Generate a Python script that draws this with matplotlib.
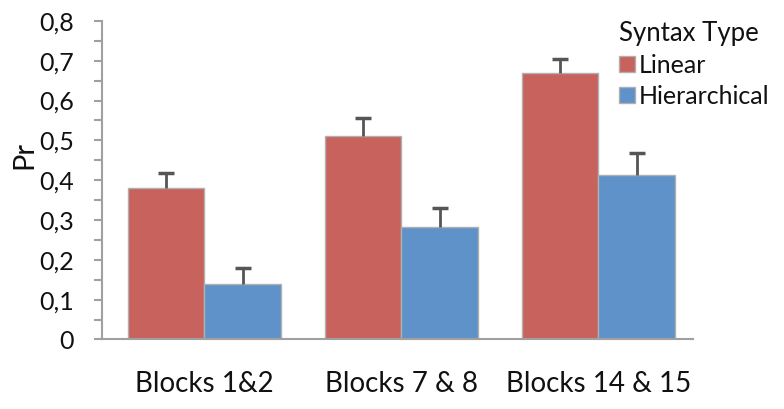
import matplotlib
matplotlib.use("Agg")
import matplotlib.pyplot as plt
import numpy as np
from matplotlib.ticker import MultipleLocator

categories = ["Blocks 1&2", "Blocks 7 & 8", "Blocks 14 & 15"]
linear = [0.38, 0.51, 0.67]
linear_err = [0.038, 0.045, 0.035]
hier = [0.14, 0.283, 0.413]
hier_err = [0.04, 0.047, 0.055]
series_names = ["Linear", "Hierarchical"]
yticks = [0, 0.1, 0.2, 0.3, 0.4, 0.5, 0.6, 0.7, 0.8]
yticklabels = ["0", "0,1", "0,2", "0,3", "0,4", "0,5", "0,6", "0,7", "0,8"]

plt.rcParams['font.family'] = ['Lato', 'DejaVu Sans']

red = "#C8625C"
blue = "#5E92C8"
gray = "#A0A0A0"
errc = "#555555"
txt = "#111111"

fig = plt.figure(figsize=(7.84, 4.09), dpi=100)
ax = fig.add_axes([0.130, 0.170, 0.754, 0.779])

x = np.arange(len(categories))
w = 0.39
for off, vals, errs, col, name in [(-w/2, linear, linear_err, red, series_names[0]),
                                   (w/2, hier, hier_err, blue, series_names[1])]:
    xs = x + off
    ax.bar(xs, vals, w, color=col, edgecolor="#B0B0B0", linewidth=1, label=name, zorder=2)
    tops = np.array(vals) + np.array(errs)
    ax.vlines(xs, vals, tops, color=errc, linewidth=2, zorder=3)
    ax.plot(xs, tops, linestyle="none", marker="_", markersize=11, markeredgewidth=2.5,
            color=errc, zorder=3)

ax.set_xlim(-0.52, 2.48)
ax.set_ylim(0, 0.8)
ax.set_xticks(x)
ax.set_xticklabels(categories, fontsize=20, color=txt)
ax.tick_params(axis='x', length=0, pad=23)
ax.set_yticks(yticks)
ax.set_yticklabels(yticklabels, fontsize=18, color=txt)
ax.yaxis.set_minor_locator(MultipleLocator(0.05))
ax.tick_params(axis='y', which='both', length=6, width=1.5, color=gray, pad=14)

for s in ["top", "right"]:
    ax.spines[s].set_visible(False)
for s in ["left", "bottom"]:
    ax.spines[s].set_color(gray)
    ax.spines[s].set_linewidth(1.5)
ax.spines["left"].set_bounds(0, 0.8)

ax.set_ylabel("Pr", fontsize=21, color=txt)
ax.yaxis.set_label_coords(-0.11, 0.58)

leg = ax.legend(loc="upper left", bbox_to_anchor=(0.786, 0.955), bbox_transform=fig.transFigure,
                frameon=False, title="Syntax Type", fontsize=18, title_fontsize=18.5,
                handlelength=0.65, handleheight=0.65, handletextpad=0.15, labelspacing=0.32,
                alignment="left", borderpad=0.1, borderaxespad=0)
leg.get_title().set_color(txt)
for t in leg.get_texts():
    t.set_color(txt)
for p in leg.get_patches():
    p.set_edgecolor("#B0B0B0")

fig.savefig("out.png", dpi=100)
